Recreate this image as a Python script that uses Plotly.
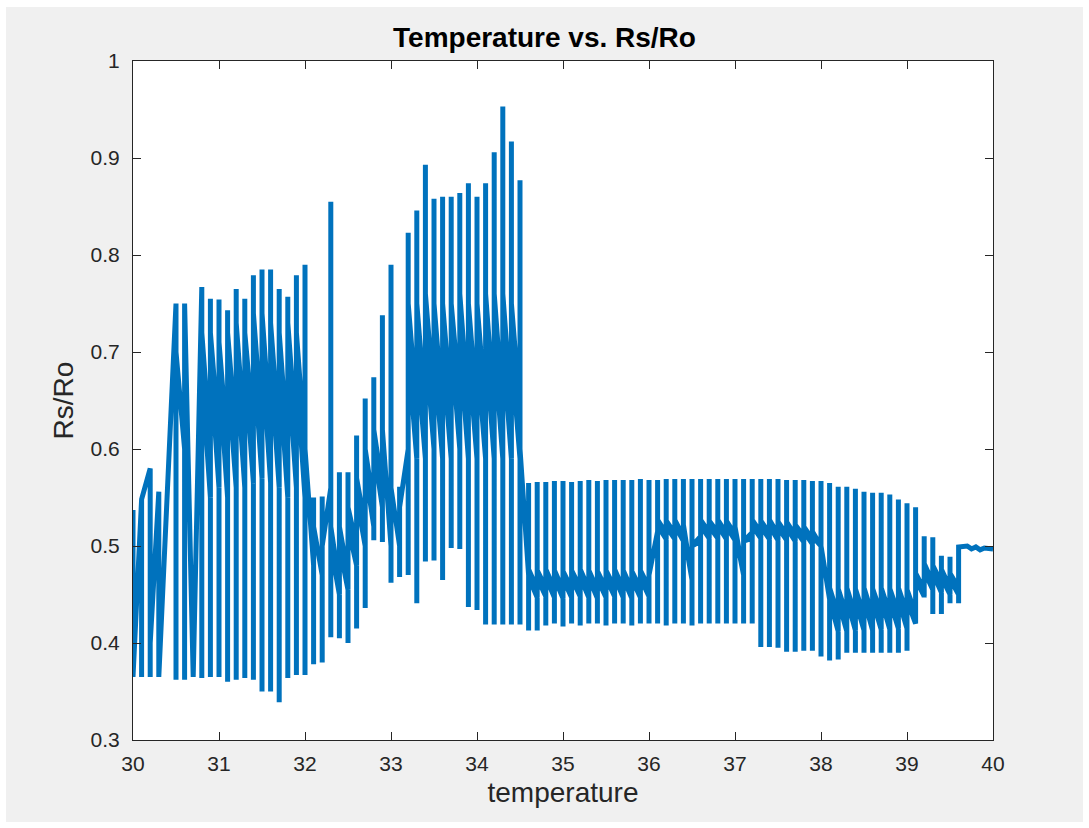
import plotly.graph_objects as go

# Temperature steps (logged at 0.1 resolution) and the Rs/Ro readings seen at each step
temp_steps = [30.0, 30.1, 30.2, 30.3, 30.4, 30.5, 30.6, 30.7, 30.8, 30.9,
              31.0, 31.1, 31.2, 31.3, 31.4, 31.5, 31.6, 31.7, 31.8, 31.9,
              32.0, 32.1, 32.2, 32.3, 32.4, 32.5, 32.6, 32.7, 32.8, 32.9,
              33.0, 33.1, 33.2, 33.3, 33.4, 33.5, 33.6, 33.7, 33.8, 33.9,
              34.0, 34.1, 34.2, 34.3, 34.4, 34.5, 34.6, 34.7, 34.8, 34.9,
              35.0, 35.1, 35.2, 35.3, 35.4, 35.5, 35.6, 35.7, 35.8, 35.9,
              36.0, 36.1, 36.2, 36.3, 36.4, 36.5, 36.6, 36.7, 36.8, 36.9,
              37.0, 37.1, 37.2, 37.3, 37.4, 37.5, 37.6, 37.7, 37.8, 37.9,
              38.0, 38.1, 38.2, 38.3, 38.4, 38.5, 38.6, 38.7, 38.8, 38.9,
              39.0, 39.1, 39.2, 39.3, 39.4, 39.5, 39.6]

# highest reading at each temperature step
rs_peak = [0.537, 0.548, 0.580, 0.556, 0.560, 0.750, 0.750, 0.365, 0.767, 0.755,
           0.754, 0.743, 0.765, 0.755, 0.779, 0.785, 0.785, 0.765, 0.757, 0.779,
           0.790, 0.550, 0.551, 0.855, 0.576, 0.576, 0.614, 0.652, 0.674, 0.738,
           0.790, 0.561, 0.823, 0.846, 0.893, 0.858, 0.860, 0.860, 0.864, 0.874,
           0.860, 0.874, 0.906, 0.953, 0.917, 0.877, 0.565, 0.566, 0.566, 0.567,
           0.567, 0.566, 0.567, 0.568, 0.567, 0.568, 0.568, 0.568, 0.568, 0.569,
           0.568, 0.568, 0.569, 0.569, 0.569, 0.569, 0.569, 0.569, 0.569, 0.569,
           0.569, 0.569, 0.569, 0.569, 0.569, 0.569, 0.568, 0.568, 0.568, 0.567,
           0.567, 0.565, 0.561, 0.561, 0.559, 0.556, 0.555, 0.555, 0.553, 0.548,
           0.544, 0.540, 0.510, 0.509, 0.490, 0.489, 0.470]

# lowest reading at each temperature step
rs_trough = [0.365, 0.365, 0.365, 0.365, 0.560, 0.362, 0.362, 0.365, 0.364, 0.365,
             0.365, 0.360, 0.362, 0.364, 0.362, 0.350, 0.350, 0.339, 0.364, 0.367,
             0.367, 0.378, 0.380, 0.406, 0.405, 0.400, 0.415, 0.436, 0.506, 0.504,
             0.462, 0.468, 0.470, 0.441, 0.484, 0.485, 0.465, 0.498, 0.497, 0.437,
             0.434, 0.419, 0.419, 0.419, 0.419, 0.419, 0.413, 0.413, 0.418, 0.420,
             0.417, 0.420, 0.418, 0.420, 0.420, 0.418, 0.420, 0.420, 0.418, 0.420,
             0.420, 0.420, 0.418, 0.420, 0.420, 0.418, 0.420, 0.420, 0.420, 0.420,
             0.420, 0.420, 0.420, 0.396, 0.396, 0.395, 0.391, 0.391, 0.392, 0.392,
             0.386, 0.382, 0.383, 0.390, 0.390, 0.390, 0.390, 0.390, 0.390, 0.390,
             0.392, 0.445, 0.447, 0.430, 0.430, 0.441, 0.441]

# Readings while the sensor flickers between a step and the next one:
# leave (at this step) -> arrive (next step) -> back (this step) -> again (next step)
rs_leave = [0.365, 0.548, 0.400, 0.365, 0.560, 0.700, 0.750, 0.365, 0.720, 0.720,
            0.710, 0.720, 0.730, 0.720, 0.740, 0.740, 0.730, 0.720, 0.730, 0.720,
            0.600, 0.520, 0.500, 0.520, 0.520, 0.540, 0.570, 0.600, 0.620, 0.620,
            0.560, 0.540, 0.750, 0.750, 0.760, 0.750, 0.750, 0.750, 0.760, 0.750,
            0.750, 0.760, 0.760, 0.760, 0.750, 0.600, 0.476, 0.475, 0.476, 0.475,
            0.474, 0.475, 0.476, 0.475, 0.474, 0.475, 0.476, 0.475, 0.474, 0.475,
            0.470, 0.527, 0.526, 0.527, 0.522, 0.500, 0.527, 0.526, 0.527, 0.526,
            0.520, 0.505, 0.527, 0.526, 0.527, 0.525, 0.525, 0.522, 0.520, 0.515,
            0.500, 0.457, 0.456, 0.457, 0.456, 0.457, 0.456, 0.457, 0.456, 0.457,
            0.455, 0.472, 0.482, 0.480, 0.476, 0.472]
rs_arrive = [0.548, 0.580, 0.556, 0.560, 0.750, 0.600, 0.365, 0.767, 0.600, 0.610,
             0.600, 0.610, 0.610, 0.620, 0.620, 0.615, 0.610, 0.600, 0.610, 0.600,
             0.480, 0.470, 0.560, 0.460, 0.470, 0.500, 0.520, 0.540, 0.560, 0.500,
             0.500, 0.600, 0.640, 0.640, 0.650, 0.640, 0.640, 0.650, 0.640, 0.640,
             0.640, 0.640, 0.640, 0.640, 0.640, 0.470, 0.456, 0.457, 0.456, 0.455,
             0.456, 0.457, 0.456, 0.455, 0.456, 0.457, 0.456, 0.455, 0.456, 0.457,
             0.515, 0.513, 0.513, 0.510, 0.465, 0.510, 0.514, 0.514, 0.513, 0.512,
             0.470, 0.514, 0.514, 0.513, 0.512, 0.512, 0.511, 0.510, 0.507, 0.500,
             0.445, 0.428, 0.428, 0.428, 0.428, 0.428, 0.430, 0.430, 0.430, 0.430,
             0.430, 0.455, 0.462, 0.462, 0.457, 0.457]
rs_back = [0.365, 0.548, 0.400, 0.365, 0.560, 0.700, 0.750, 0.365, 0.680, 0.690,
           0.680, 0.680, 0.690, 0.690, 0.700, 0.700, 0.690, 0.680, 0.690, 0.680,
           0.600, 0.520, 0.500, 0.500, 0.500, 0.520, 0.550, 0.580, 0.600, 0.620,
           0.560, 0.540, 0.700, 0.700, 0.710, 0.700, 0.700, 0.710, 0.710, 0.700,
           0.700, 0.710, 0.710, 0.710, 0.700, 0.600, 0.468, 0.467, 0.468, 0.467,
           0.466, 0.467, 0.468, 0.467, 0.466, 0.467, 0.468, 0.467, 0.466, 0.467,
           0.470, 0.521, 0.520, 0.521, 0.517, 0.500, 0.521, 0.520, 0.521, 0.520,
           0.515, 0.505, 0.521, 0.520, 0.521, 0.519, 0.519, 0.517, 0.515, 0.510,
           0.500, 0.445, 0.444, 0.445, 0.444, 0.445, 0.444, 0.445, 0.444, 0.445,
           0.444, 0.466, 0.474, 0.472, 0.468, 0.466]
rs_again = [0.548, 0.580, 0.556, 0.560, 0.750, 0.600, 0.365, 0.767, 0.550, 0.560,
            0.550, 0.560, 0.560, 0.565, 0.570, 0.565, 0.560, 0.550, 0.560, 0.550,
            0.480, 0.470, 0.560, 0.450, 0.455, 0.480, 0.500, 0.520, 0.540, 0.500,
            0.500, 0.600, 0.590, 0.590, 0.600, 0.590, 0.590, 0.600, 0.590, 0.590,
            0.590, 0.590, 0.590, 0.590, 0.590, 0.470, 0.447, 0.448, 0.447, 0.446,
            0.447, 0.448, 0.447, 0.446, 0.447, 0.448, 0.447, 0.446, 0.447, 0.448,
            0.515, 0.507, 0.507, 0.505, 0.465, 0.505, 0.508, 0.508, 0.507, 0.506,
            0.470, 0.508, 0.508, 0.507, 0.506, 0.506, 0.505, 0.504, 0.502, 0.500,
            0.445, 0.412, 0.412, 0.413, 0.413, 0.413, 0.414, 0.414, 0.415, 0.415,
            0.420, 0.448, 0.455, 0.452, 0.450, 0.450]

# settled readings at the top of the run
tail_temp = [39.6, 39.7, 39.75, 39.8, 39.85, 39.9, 39.95, 40.0]
tail_rs = [0.499, 0.500, 0.497, 0.499, 0.496, 0.498, 0.497, 0.497]

y_ticks = [0.3, 0.4, 0.5, 0.6, 0.7, 0.8, 0.9, 1.0]
y_tick_text = ["0.3", "0.4", "0.5", "0.6", "0.7", "0.8", "0.9", "1"]
x_ticks = [30, 31, 32, 33, 34, 35, 36, 37, 38, 39, 40]

# Build the logged trace: each step is a vertical run from peak to trough,
# then the flicker back and forth across to the next temperature step.
xs, ys = [], []
n = len(temp_steps)
for i in range(n):
    t = temp_steps[i]
    xs += [t, t]
    ys += [rs_peak[i], rs_trough[i]]
    if i < n - 1:
        t_next = temp_steps[i + 1]
        xs += [t, t_next, t, t_next]
        ys += [rs_leave[i], rs_arrive[i], rs_back[i], rs_again[i]]
xs += tail_temp
ys += tail_rs

fig = go.Figure()
fig.add_trace(go.Scatter(
    x=xs, y=ys, mode="lines",
    line=dict(color="#0072BD", width=5),
    hoverinfo="skip", showlegend=False,
))

font_family = "Liberation Sans, Arial, sans-serif"
axis_common = dict(
    showline=True, linecolor="#262626", linewidth=1, mirror="ticks",
    ticks="inside", ticklen=8, tickcolor="#262626", tickwidth=1,
    showgrid=False, zeroline=False,
    tickfont=dict(family=font_family, size=21, color="#262626"),
)

fig.update_layout(
    width=1089, height=828,
    margin=dict(l=133, r=96, t=61, b=88),
    paper_bgcolor="#f0f0f0", plot_bgcolor="white",
    title=dict(text="<b>Temperature vs. Rs/Ro</b>", x=0.5, xanchor="center",
               y=1 - 37 / 828, yanchor="middle",
               font=dict(family=font_family, size=28, color="black")),
    xaxis=dict(range=[30, 40], tickvals=x_ticks, ticklabelstandoff=5,
               title=dict(text="temperature", standoff=8,
                          font=dict(family=font_family, size=28, color="#262626")),
               **axis_common),
    yaxis=dict(range=[0.3, 1.0], tickvals=y_ticks, ticktext=y_tick_text,
               ticklabelstandoff=8,
               title=dict(text="Rs/Ro", standoff=8,
                          font=dict(family=font_family, size=28, color="#262626")),
               **axis_common),
)

# thin white frame around the grey figure panel
frame = [(-0.155, 1.0795, 1.12, 1.13), (-0.16, -0.14, -0.1477, 1.13),
         (1.1047, -0.14, 1.12, 1.13), (-0.16, -0.14, 1.12, -0.1208)]
for x0, y0, x1, y1 in frame:
    fig.add_shape(type="rect", xref="paper", yref="paper",
                  x0=x0, y0=y0, x1=x1, y1=y1,
                  fillcolor="white", line=dict(width=0), layer="above")

fig.write_html("out.html")
